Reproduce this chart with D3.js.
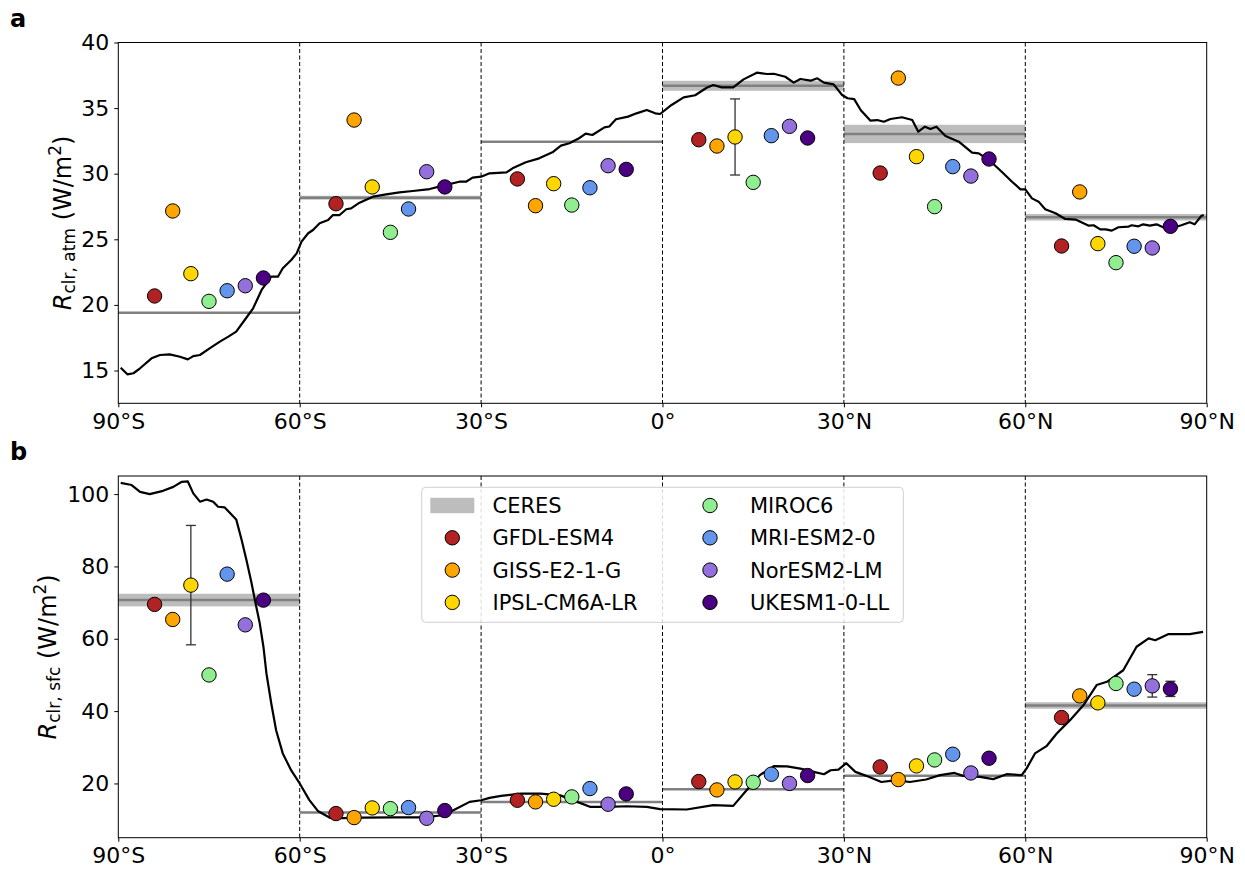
<!DOCTYPE html>
<html>
<head>
<meta charset="utf-8">
<script src="https://cdn.jsdelivr.net/npm/d3@7"></script>
<style>
    body { margin: 0; background: #fff; }
    svg { font-family: "DejaVu Sans", sans-serif; }
</style>
</head>
<body>
<div id="chart"></div>
<script>
// 模型名称与颜色
const models = ['GFDL-ESM4', 'GISS-E2-1-G', 'IPSL-CM6A-LR', 'MIROC6', 'MRI-ESM2-0', 'NorESM2-LM', 'UKESM1-0-LL'];
const modelColors = ['#b22222', '#ffa500', '#ffd700', '#90ee90', '#6495ed', '#9370db', '#4b0082'];

// 纬度带 (起点)
const bandStarts = [-90, -60, -30, 0, 30, 60];
const latTicks = [-90, -60, -30, 0, 30, 60, 90];
const latTickLabels = ['90°S', '60°S', '30°S', '0°', '30°N', '60°N', '90°N'];
const atmTicks = [15, 20, 25, 30, 35, 40];
const sfcTicks = [20, 40, 60, 80, 100];

// CERES 纬带平均及不确定度
const ceresAtmMean = [19.4, 28.17, 32.44, 36.7, 33.03, 26.68];
const ceresAtmUnc = [0.05, 0.15, 0.05, 0.38, 0.7, 0.25];
const ceresSfcMean = [70.7, 12.0, 14.9, 18.4, 22.1, 41.55];
const ceresSfcUnc = [1.75, 0.2, 0.2, 0.2, 0.2, 0.9];

// 模型纬带值 (每行一个模型, 每列一个纬带)
const atmModelValues = [
    [20.68, 27.71, 29.6, 32.59, 30.05, 24.49],
    [27.16, 34.09, 27.56, 32.11, 37.29, 28.61],
    [22.38, 28.99, 29.24, 32.8, 31.3, 24.67],
    [20.27, 25.53, 27.61, 29.34, 27.49, 23.22],
    [21.08, 27.31, 28.93, 32.9, 30.54, 24.47],
    [21.46, 30.15, 30.61, 33.61, 29.82, 24.34],
    [22.05, 28.99, 30.33, 32.72, 31.12, 25.99]
];
const sfcModelValues = [
    [69.5, 11.67, 15.35, 20.52, 24.57, 38.22],
    [65.33, 10.56, 14.9, 18.21, 21.07, 44.21],
    [74.83, 13.23, 15.63, 20.43, 24.85, 42.28],
    [50.0, 13.04, 16.28, 20.33, 26.5, 47.63],
    [77.87, 13.32, 18.58, 22.54, 28.08, 46.06],
    [63.85, 10.37, 14.25, 20.0, 22.9, 46.98],
    [70.68, 12.5, 17.1, 22.18, 26.97, 46.15]
];

// 误差棒 [模型序号, 纬带序号, 半宽]
const atmErrors = [[2, 3, 2.9]];
const sfcErrors = [[2, 0, 16.5], [5, 5, 3.1], [6, 5, 2.1]];

// CERES 纬向平均曲线 [纬度, 值]
const atmZonal = [
    [-89.6, 15.21], [-88.5, 14.71], [-87.5, 14.79], [-86.4, 15.17], [-84.5, 15.93], [-83.1, 16.18],
    [-81.5, 16.23], [-79.8, 16.05], [-78.5, 15.85], [-77.6, 16.1], [-76.5, 16.18], [-74.9, 16.69],
    [-73.2, 17.2], [-71.8, 17.58], [-70.5, 17.96], [-69.1, 18.85], [-67.7, 19.74], [-66.3, 21.14],
    [-64.7, 22.15], [-63.6, 22.15], [-62.8, 22.79], [-61.4, 23.42], [-60.5, 23.93], [-59.7, 24.82],
    [-58.6, 25.46], [-57.8, 25.71], [-56.7, 26.22], [-55.3, 26.47], [-54.5, 26.85], [-53.4, 26.85],
    [-52.3, 27.29], [-51.5, 27.36], [-50.1, 27.79], [-47.9, 28.25], [-45.7, 28.43], [-43.5, 28.58],
    [-41.3, 28.68], [-38.5, 28.83], [-36.3, 29.09], [-33.6, 29.39], [-32.5, 29.39], [-31.4, 29.7],
    [-30.0, 29.77], [-28.6, 30.03], [-25.8, 30.1], [-24.8, 30.41], [-22.6, 30.87], [-20.4, 31.17],
    [-18.2, 31.63], [-16.8, 32.14], [-15.4, 32.32], [-13.8, 32.7], [-12.7, 33.05], [-11.6, 32.95],
    [-9.6, 33.53], [-8.8, 33.6], [-7.7, 34.15], [-5.7, 34.35], [-4.3, 34.6], [-2.6, 34.86],
    [-1.2, 34.6], [-0.4, 34.55], [1.5, 35.24], [3.5, 35.82], [5.4, 35.98], [7.3, 36.55],
    [8.4, 36.76], [9.8, 36.58], [11.7, 36.58], [13.4, 37.19], [15.6, 37.7], [17.3, 37.6],
    [18.4, 37.62], [20.3, 37.39], [21.7, 36.94], [22.8, 37.22], [24.5, 37.09], [25.6, 37.27],
    [26.7, 36.94], [28.3, 36.81], [29.7, 36.0], [30.6, 35.75], [31.7, 35.68], [32.8, 34.84],
    [34.4, 34.04], [35.5, 34.09], [36.6, 33.96], [37.7, 34.17], [39.6, 34.3], [41.3, 34.09],
    [42.3, 33.2], [43.4, 33.58], [44.3, 33.4], [45.3, 33.58], [46.8, 32.87], [49.0, 32.44],
    [51.2, 31.6], [52.3, 31.55], [54.0, 31.04], [56.1, 30.15], [57.8, 29.39], [59.2, 28.81],
    [60.0, 28.81], [61.1, 28.12], [62.2, 27.87], [63.3, 27.29], [65.0, 26.98], [66.6, 26.55],
    [68.3, 26.5], [70.5, 26.04], [71.3, 26.07], [72.4, 25.76], [73.3, 25.76], [74.3, 25.66],
    [75.4, 25.92], [77.1, 25.97], [77.6, 26.07], [78.7, 25.99], [79.5, 26.14], [80.6, 26.04],
    [81.7, 26.14], [82.8, 25.92], [84.2, 25.84], [85.8, 26.07], [87.2, 26.3], [88.0, 26.14],
    [89.1, 26.78], [89.5, 26.85]
];
const sfcZonal = [
    [-89.6, 103.1], [-87.8, 102.5], [-86.4, 100.6], [-84.8, 100.0], [-82.6, 100.9], [-80.9, 102.0],
    [-79.5, 103.4], [-78.5, 103.5], [-77.6, 100.2], [-76.5, 97.9], [-75.4, 98.5], [-74.3, 97.9],
    [-73.5, 96.5], [-72.4, 96.3], [-70.5, 93.0], [-69.6, 87.3], [-68.8, 81.7], [-68.0, 75.7],
    [-67.3, 69.8], [-66.6, 64.2], [-66.0, 57.8], [-65.5, 50.4], [-64.7, 42.1], [-63.9, 34.7],
    [-62.8, 28.3], [-61.4, 23.6], [-60.0, 20.0], [-58.4, 15.4], [-57.0, 12.4], [-55.0, 10.5],
    [-52.9, 10.4], [-49.5, 10.55], [-44.6, 10.6], [-39.6, 10.6], [-36.3, 11.2], [-34.1, 13.0],
    [-31.9, 14.9], [-30.0, 15.35], [-28.6, 16.0], [-26.7, 16.55], [-23.4, 17.2], [-20.2, 17.2],
    [-16.9, 16.7], [-14.1, 14.9], [-11.9, 13.5], [-9.1, 13.5], [-5.9, 13.7], [-2.6, 13.5],
    [-0.4, 12.9], [4.0, 12.8], [8.4, 14.0], [11.7, 13.8], [13.9, 18.1], [16.1, 22.3],
    [18.4, 24.8], [20.6, 24.7], [22.8, 24.1], [25.0, 23.2], [26.7, 22.55], [27.8, 23.65],
    [29.1, 23.8], [30.4, 25.6], [31.9, 23.2], [33.7, 22.1], [36.2, 20.4], [38.7, 20.9],
    [40.9, 20.4], [43.6, 21.1], [45.9, 22.3], [48.3, 22.9], [49.7, 22.1], [52.5, 21.8],
    [54.7, 21.2], [56.9, 22.55], [59.4, 22.3], [60.2, 24.1], [61.6, 28.3], [63.5, 30.3],
    [65.2, 33.8], [67.4, 37.5], [69.6, 41.6], [71.8, 47.2], [73.5, 48.1], [76.2, 51.3],
    [78.4, 57.8], [80.4, 60.1], [81.5, 59.6], [83.7, 61.3], [87.2, 61.3], [89.4, 61.9]
];

// 配置参数
const config = {
    width: 1245,
    height: 870,
    left: 118.3,
    right: 1206.7,
    panels: [
        { top: 42.5, bottom: 403.3, domain: [12.5, 40], labelX: 71 },
        { top: 476, bottom: 837.7, domain: [5, 105], labelX: 56 }
    ],
    tickFont: 22,
    legendFont: 21
};

const svg = d3.select('#chart')
    .append('svg')
    .attr('width', config.width)
    .attr('height', config.height);

const x = d3.scaleLinear().domain([-90, 90]).range([config.left, config.right]);

// 模型点的纬度位置: 纬带起点 + 6° + 3°×序号
const modelLat = (b, i) => bandStarts[b] + 6 + 3 * i;

function drawPanel(p, opts) {
    const y = d3.scaleLinear().domain(p.domain).range([p.bottom, p.top]);
    const g = svg.append('g');

    // CERES 不确定度带和均值线
    bandStarts.forEach((b, k) => {
        g.append('rect')
            .attr('x', x(b))
            .attr('width', x(b + 30) - x(b))
            .attr('y', y(opts.mean[k] + opts.unc[k]))
            .attr('height', Math.max(0, y(opts.mean[k] - opts.unc[k]) - y(opts.mean[k] + opts.unc[k])))
            .attr('fill', '#bdbdbd');
        g.append('line')
            .attr('x1', x(b)).attr('x2', x(b + 30))
            .attr('y1', y(opts.mean[k])).attr('y2', y(opts.mean[k]))
            .attr('stroke', '#808080')
            .attr('stroke-width', 2.5);
    });

    // 纬带分隔虚线
    g.selectAll('.sep')
        .data([-60, -30, 0, 30, 60])
        .enter()
        .append('line')
        .attr('x1', d => x(d)).attr('x2', d => x(d))
        .attr('y1', p.top).attr('y2', p.bottom)
        .attr('stroke', '#000')
        .attr('stroke-width', 1)
        .attr('stroke-dasharray', '4,2.5');

    // 纬向平均曲线
    g.append('path')
        .datum(opts.zonal)
        .attr('fill', 'none')
        .attr('stroke', '#000')
        .attr('stroke-width', 2.2)
        .attr('stroke-linejoin', 'round')
        .attr('d', d3.line().x(d => x(d[0])).y(d => y(d[1])));

    // 误差棒
    opts.errors.forEach(([i, b, e]) => {
        const cx = x(modelLat(b, i));
        const v = opts.values[i][b];
        g.append('line')
            .attr('x1', cx).attr('x2', cx)
            .attr('y1', y(v - e)).attr('y2', y(v + e))
            .attr('stroke', '#333').attr('stroke-width', 1.3);
        [v - e, v + e].forEach(t => {
            g.append('line')
                .attr('x1', cx - 5).attr('x2', cx + 5)
                .attr('y1', y(t)).attr('y2', y(t))
                .attr('stroke', '#333').attr('stroke-width', 1.3);
        });
    });

    // 模型点
    models.forEach((m, i) => {
        g.selectAll(null)
            .data(opts.values[i])
            .enter()
            .append('circle')
            .attr('cx', (d, b) => x(modelLat(b, i)))
            .attr('cy', d => y(d))
            .attr('r', 7.2)
            .attr('fill', modelColors[i])
            .attr('stroke', '#000')
            .attr('stroke-width', 1);
    });

    // 坐标轴
    const xAxis = d3.axisBottom(x)
        .tickValues(latTicks)
        .tickFormat((d, i) => latTickLabels[i])
        .tickSize(4).tickPadding(6);
    const yAxis = d3.axisLeft(y)
        .tickValues(opts.ticks)
        .tickSize(4).tickPadding(5);

    const ax = g.append('g')
        .attr('transform', `translate(0,${p.bottom})`)
        .call(xAxis);
    const ay = g.append('g')
        .attr('transform', `translate(${config.left},0)`)
        .call(yAxis);
    [ax, ay].forEach(a => {
        a.select('.domain').remove();
        a.selectAll('text')
            .attr('font-size', config.tickFont)
            .attr('font-family', '"DejaVu Sans", sans-serif')
            .attr('fill', '#000');
        a.selectAll('line').attr('stroke', '#000');
    });

    // 外框
    g.append('rect')
        .attr('x', config.left).attr('y', p.top)
        .attr('width', config.right - config.left)
        .attr('height', p.bottom - p.top)
        .attr('fill', 'none')
        .attr('stroke', '#000')
        .attr('stroke-width', 1);

    // y 轴标题
    const yl = g.append('text')
        .attr('transform', `translate(${p.labelX},${(p.top + p.bottom) / 2}) rotate(-90)`)
        .attr('text-anchor', 'middle')
        .attr('font-size', 24);
    yl.append('tspan').attr('font-style', 'italic').text('R');
    yl.append('tspan').attr('font-size', 17).attr('dy', 4).text(opts.sub);
    yl.append('tspan').attr('dy', -4).text('\u00a0(W/m');
    yl.append('tspan').attr('font-size', 17).attr('dy', -10).text('2');
    yl.append('tspan').attr('dy', 10).text(')');

    // 面板标签
    svg.append('text')
        .attr('x', 10).attr('y', p.top - 16)
        .attr('font-size', 24)
        .attr('font-weight', 'bold')
        .text(opts.label);

    return y;
}

drawPanel(config.panels[0], {
    mean: ceresAtmMean, unc: ceresAtmUnc, values: atmModelValues,
    errors: atmErrors, zonal: atmZonal, ticks: atmTicks, sub: 'clr, atm', label: 'a'
});
drawPanel(config.panels[1], {
    mean: ceresSfcMean, unc: ceresSfcUnc, values: sfcModelValues,
    errors: sfcErrors, zonal: sfcZonal, ticks: sfcTicks, sub: 'clr, sfc', label: 'b'
});

// 图例
const legend = svg.append('g');
legend.append('rect')
    .attr('x', 421.7).attr('y', 487.3)
    .attr('width', 481.6).attr('height', 135)
    .attr('rx', 4)
    .attr('fill', '#fff').attr('fill-opacity', 0.85)
    .attr('stroke', '#d0d0d0');

const legendItems = [{ name: 'CERES', ceres: true }].concat(models.map((m, i) => ({ name: m, color: modelColors[i] })));
legendItems.forEach((d, k) => {
    const col = Math.floor(k / 4);
    const row = k % 4;
    const cx = col === 0 ? 452.3 : 710;
    const tx = col === 0 ? 492.5 : 750;
    const cy = 505.5 + row * 32.3;
    if (d.ceres) {
        legend.append('rect')
            .attr('x', cx - 22).attr('y', cy - 7.7)
            .attr('width', 44).attr('height', 15.4)
            .attr('fill', '#bdbdbd');
    } else {
        legend.append('circle')
            .attr('cx', cx).attr('cy', cy).attr('r', 7.2)
            .attr('fill', d.color)
            .attr('stroke', '#000');
    }
    legend.append('text')
        .attr('x', tx).attr('y', cy)
        .attr('dy', '0.36em')
        .attr('font-size', config.legendFont)
        .text(d.name);
});
</script>
</body>
</html>
